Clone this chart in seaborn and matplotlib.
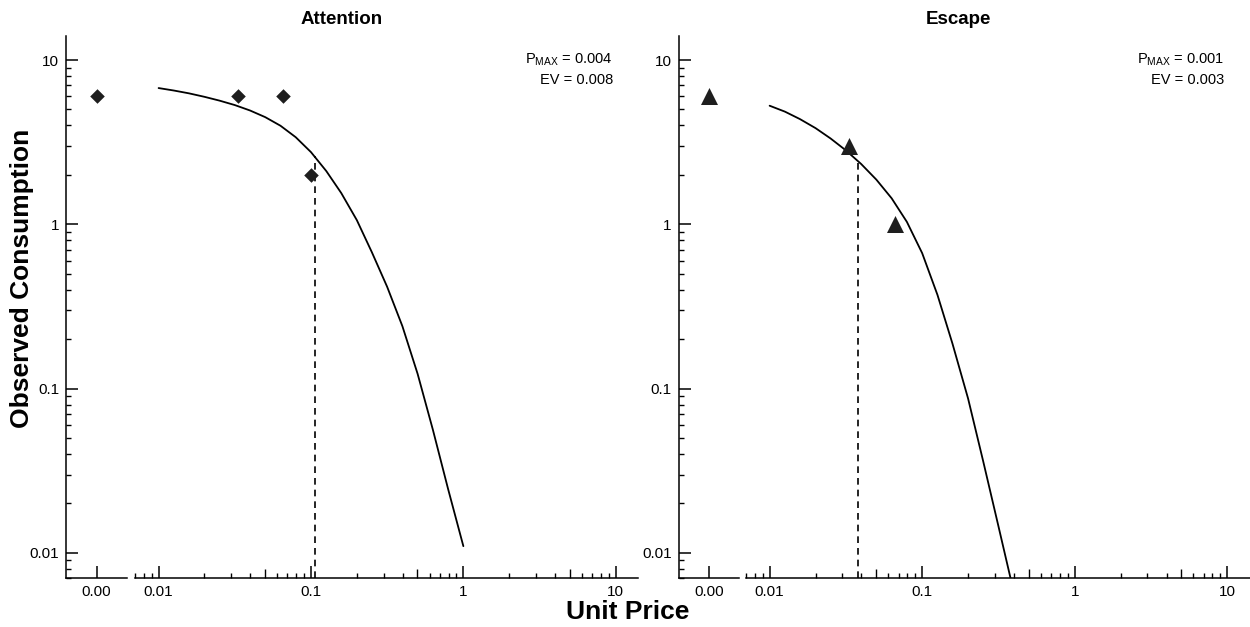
import numpy as np
import pandas as pd
import matplotlib
matplotlib.use("Agg")
import matplotlib.pyplot as plt
import matplotlib.ticker as mticker
import seaborn as sns

# panel info
panel_titles = ["Attention", "Escape"]
panel_markers = ["D", "^"]
marker_sizes = [55, 150]
pmax_text = ["0.004", "0.001"]
ev_text = ["0.008", "0.003"]

# observed consumption (price 0 goes on the broken part of the axis)
attention_price = [0.0, 0.033, 0.066, 0.1]
attention_cons = [6, 6, 6, 2]
escape_price = [0.0, 0.033, 0.066]
escape_cons = [6, 3, 1]

# fitted demand curves
attention_curve_x = [0.01, 0.0126, 0.0158, 0.02, 0.0251, 0.0316, 0.0398, 0.0501, 0.0631, 0.0794,
                     0.1, 0.126, 0.158, 0.2, 0.251, 0.316, 0.398, 0.501, 0.631, 0.794, 1.0]
attention_curve_y = [6.75, 6.52, 6.27, 5.97, 5.66, 5.32, 4.93, 4.49, 3.98, 3.39,
                     2.75, 2.11, 1.55, 1.06, 0.676, 0.417, 0.240, 0.123, 0.0562, 0.0245, 0.011]
escape_curve_x = [0.01, 0.0126, 0.0158, 0.02, 0.0251, 0.0316, 0.0398, 0.0501, 0.0631, 0.0794,
                  0.1, 0.126, 0.158, 0.2, 0.251, 0.316, 0.398]
escape_curve_y = [5.27, 4.85, 4.37, 3.85, 3.33, 2.82, 2.33, 1.87, 1.44, 1.035,
                  0.668, 0.372, 0.188, 0.0871, 0.0363, 0.0146, 0.00582]

# pmax drop lines
pmax_x = [0.106, 0.038]
pmax_y = [2.6, 2.35]

y_ticks = [0.01, 0.1, 1, 10]
y_ticklabels = ["0.01", "0.1", "1", "10"]
x_ticks = [0.01, 0.1, 1, 10]
x_ticklabels = ["0.01", "0.1", "1", "10"]
x_mid_ticks = [0.05, 0.5, 5]
zero_label = "0.00"
lims = (0.007, 14)

sns.set_theme(style="ticks")
plt.rcParams["font.family"] = ["Liberation Sans", "DejaVu Sans"]
plt.rcParams["mathtext.default"] = "regular"

W, H = 1250, 627
fig = plt.figure(figsize=(W / 100, H / 100), dpi=100)


def rect(x0, x1, top=36, bottom=578.4):
    return [x0 / W, 1 - bottom / H, (x1 - x0) / W, (bottom - top) / H]


layout = [((66, 127), (135, 638)), ((678.6, 739), (746, 1249.5))]
points = [pd.DataFrame({"price": attention_price, "cons": attention_cons}),
          pd.DataFrame({"price": escape_price, "cons": escape_cons})]
curves = [pd.DataFrame({"price": attention_curve_x, "cons": attention_curve_y}),
          pd.DataFrame({"price": escape_curve_x, "cons": escape_curve_y})]
title_x = [342, 958]

tick_kw = dict(direction="in", colors="black", labelcolor="black", width=1.1,
               labelsize=11, pad=5)

for i in range(2):
    zr, lr = layout[i]
    az = fig.add_axes(rect(*zr))
    al = fig.add_axes(rect(*lr))
    for ax in (az, al):
        ax.set_yscale("log")
        ax.set_ylim(*lims)
        ax.set_facecolor("none")
        for s in ["top", "right"]:
            ax.spines[s].set_visible(False)
        for s in ["bottom", "left"]:
            ax.spines[s].set_linewidth(1.1)
            ax.spines[s].set_color("black")

    # zero part
    az.set_xlim(-1, 1)
    az.set_xticks([0])
    az.set_xticklabels([zero_label])
    az.xaxis.set_minor_locator(mticker.NullLocator())
    az.set_yticks(y_ticks)
    az.set_yticklabels(y_ticklabels)
    az.yaxis.set_minor_locator(mticker.LogLocator(base=10, subs=range(2, 10), numticks=20))
    az.yaxis.set_minor_formatter(mticker.NullFormatter())
    az.tick_params(which="major", length=8.5, **tick_kw)
    az.tick_params(which="minor", length=3.8, direction="in", width=1.0, colors="black")

    # log part
    al.spines["left"].set_visible(False)
    al.set_xscale("log")
    al.set_xlim(*lims)
    al.set_xticks(x_ticks)
    al.set_xticklabels(x_ticklabels)
    al.xaxis.set_minor_locator(mticker.LogLocator(base=10, subs=[2, 3, 4, 6, 7, 8, 9], numticks=20))
    al.xaxis.set_minor_formatter(mticker.NullFormatter())
    al.tick_params(axis="x", which="major", length=8.5, **tick_kw)
    al.tick_params(axis="x", which="minor", length=3.8, direction="in", width=1.0, colors="black")
    al.tick_params(axis="y", which="both", left=False, labelleft=False)

    tw = al.twiny()
    tw.set_xscale("log")
    tw.set_xlim(*lims)
    tw.set_xticks(x_mid_ticks)
    tw.xaxis.set_minor_locator(mticker.NullLocator())
    tw.xaxis.set_ticks_position("bottom")
    tw.tick_params(axis="x", length=6.5, direction="in", width=1.0, colors="black",
                   labelbottom=False, labeltop=False)
    for s in tw.spines.values():
        s.set_visible(False)
    tw.patch.set_visible(False)

    df = points[i]
    sns.scatterplot(data=df[df["price"] == 0], x="price", y="cons", ax=az,
                    marker=panel_markers[i], s=marker_sizes[i], color="#1e1e1e",
                    linewidth=0, clip_on=False, zorder=3)
    sns.scatterplot(data=df[df["price"] > 0], x="price", y="cons", ax=al,
                    marker=panel_markers[i], s=marker_sizes[i], color="#1e1e1e",
                    linewidth=0, clip_on=False, zorder=3)
    sns.lineplot(data=curves[i], x="price", y="cons", ax=al, color="black",
                 linewidth=1.3, sort=False, estimator=None)
    al.vlines(pmax_x[i], lims[0], pmax_y[i], colors="black", linewidth=1.2,
              linestyles=(0, (4, 3)))

    for ax in (az, al):
        ax.set_xlabel("")
        ax.set_ylabel("")
    az.set_xlim(-1, 1)
    al.set_xlim(*lims)
    al.set_ylim(*lims)

    al.text(0.95, 0.956, "P$_{MAX}$ = " + pmax_text[i], transform=al.transAxes,
            ha="right", va="center", fontsize=10.5, color="black")
    al.text(0.95, 0.919, "EV = " + ev_text[i], transform=al.transAxes,
            ha="right", va="center", fontsize=10.5, color="black")

    fig.text(title_x[i] / W, 1 - 19 / H, panel_titles[i], ha="center", va="center",
             fontsize=13.5, fontweight="bold", color="black")

fig.text(22 / W, 1 - 278 / H, "Observed Consumption", rotation=90, ha="center",
         va="center", fontsize=19, fontweight="bold", color="black")
fig.text(628 / W, 1 - 619 / H, "Unit Price", ha="center", va="baseline",
         fontsize=19, fontweight="bold", color="black")

fig.savefig("out.png", dpi=100)
